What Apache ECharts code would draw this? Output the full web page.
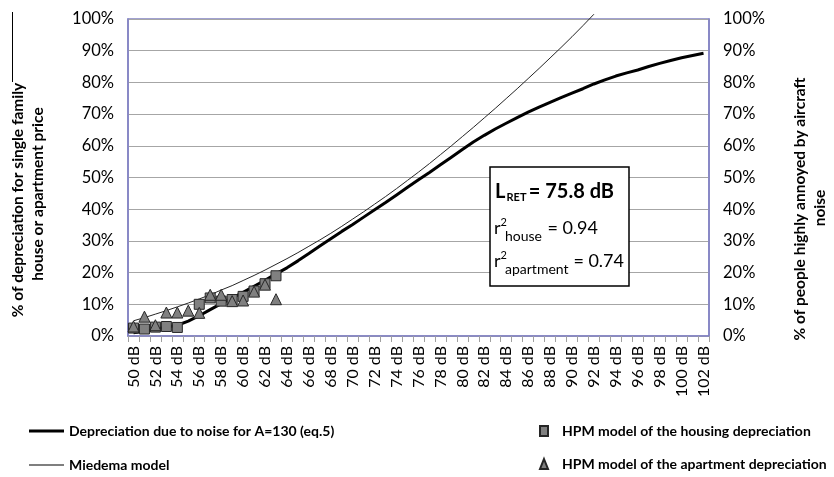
<!DOCTYPE html>
<html>
<head>
<meta charset="utf-8">
<script src="https://cdn.jsdelivr.net/npm/echarts@6/dist/echarts.min.js"></script>
<style>
  html, body { margin: 0; padding: 0; background: #fff; }
  #chart { width: 834px; height: 477px; }
</style>
</head>
<body>
<div id="chart"></div>
<script>
// Noise levels (dB) on the category axis
const categories = [50,51,52,53,54,55,56,57,58,59,60,61,62,63,64,65,66,67,68,69,70,71,72,73,74,75,76,77,78,79,80,81,82,83,84,85,86,87,88,89,90,91,92,93,94,95,96,97,98,99,100,101,102];

// Depreciation due to noise for A=130 (eq.5), % (50..102 dB)
const depreciation = [1.0,1.5,2.1,2.8,3.4,4.7,6.4,8.3,10.2,12.0,13.8,15.7,17.6,19.6,21.5,23.7,26.0,28.4,30.7,33.0,35.2,37.5,39.8,42.1,44.5,46.9,49.3,51.6,54.0,56.4,58.8,61.2,63.3,65.3,67.1,68.9,70.6,72.2,73.7,75.2,76.6,78.0,79.5,80.8,82.0,83.0,83.9,85.0,86.0,86.9,87.8,88.5,89.2];

// Miedema model, % highly annoyed (50..92 dB)
const miedema = [4.8,5.8,6.9,8.0,9.2,10.4,11.7,13.0,14.5,15.9,17.5,19.1,20.8,22.6,24.4,26.3,28.3,30.3,32.4,34.6,36.9,39.2,41.6,44.0,46.5,49.1,51.7,54.4,57.2,60.0,62.9,65.8,68.8,71.8,74.9,78.0,81.2,84.4,87.7,91.0,94.4,97.9,101.5];

// HPM model of the housing depreciation
const houseDb  = [50,51,52,53,54,56,57,58,59,60,61,62,63];
const houseVal = [2.5,2.2,2.8,3.0,2.7,10.0,12.0,11.0,11.5,12.5,14.2,16.5,19.0];

// HPM model of the apartment depreciation
const aptDb  = [50,51,52,53,54,55,56,57,58,59,60,61,62,63];
const aptVal = [3.0,6.1,3.4,7.4,7.4,8.0,7.3,13.0,13.0,11.0,11.2,14.0,16.2,11.6];

const seriesNames = [
  'Depreciation due to noise for A=130 (eq.5)',
  'Miedema model',
  'HPM model of the housing depreciation',
  'HPM model of the apartment depreciation'
];

const FONT = 'Lato';
const frameColor = '#8282c2';
const catLabels = categories.map(d => d + ' dB');
const lab = d => d + ' dB';

const chart = echarts.init(document.getElementById('chart'), null, { renderer: 'canvas' });

const legendText = { fontFamily: FONT, fontWeight: 'bold', fontSize: 14, color: '#000' };

const option = {
  animation: false,
  backgroundColor: '#fff',
  textStyle: { fontFamily: FONT },
  grid: {
    left: 128, right: 125, top: 19, bottom: 141,
    show: true, borderColor: frameColor, borderWidth: 1.5, backgroundColor: 'transparent'
  },
  xAxis: {
    type: 'category',
    data: catLabels,
    boundaryGap: true,
    axisLine: { lineStyle: { color: frameColor, width: 1.5 } },
    axisTick: { show: true, interval: 0, length: 6, lineStyle: { color: '#a0a0a0' } },
    axisLabel: { rotate: 90, interval: 1, fontSize: 16, fontFamily: FONT, color: '#000', margin: 10 },
    splitLine: { show: false }
  },
  yAxis: [
    {
      type: 'value', min: 0, max: 100, interval: 10, position: 'left',
      axisLine: { show: true, lineStyle: { color: frameColor, width: 1.5 } },
      axisTick: { show: false },
      axisLabel: { formatter: '{value}%', fontSize: 16.5, fontFamily: FONT, color: '#000', margin: 14 },
      splitLine: { show: true, lineStyle: { color: '#a6a6a6', width: 1.2 } }
    },
    {
      type: 'value', min: 0, max: 100, interval: 10, position: 'right',
      axisLine: { show: true, lineStyle: { color: frameColor, width: 1.5 } },
      axisTick: { show: false },
      axisLabel: { formatter: '{value}%', fontSize: 16.5, fontFamily: FONT, color: '#000', margin: 14 },
      splitLine: { show: false }
    }
  ],
  legend: [
    {
      data: [
        { name: seriesNames[0], icon: 'path://M0,0 L35,0 L35,3 L0,3 Z', itemStyle: { color: '#000', borderWidth: 0 } },
        { name: seriesNames[1], icon: 'path://M0,0 L35,0 L35,1 L0,1 Z', itemStyle: { color: '#000', borderWidth: 0 } }
      ],
      orient: 'vertical', left: 29, top: 424, height: 60, padding: 0,
      itemWidth: 35, itemHeight: 14, itemGap: 20,
      textStyle: legendText
    },
    {
      data: [seriesNames[2], seriesNames[3]],
      orient: 'vertical', left: 539, top: 424, height: 60, padding: 0,
      itemWidth: 8, itemHeight: 10, itemGap: 19,
      textStyle: Object.assign({}, legendText, { padding: [0, 0, 0, 9] })
    }
  ],
  series: [
    {
      name: seriesNames[0], type: 'line', yAxisIndex: 0,
      data: depreciation, symbol: 'none', showSymbol: false,
      lineStyle: { color: '#000', width: 3 }, itemStyle: { color: '#000' }, z: 2
    },
    {
      name: seriesNames[1], type: 'line', yAxisIndex: 1,
      data: miedema, symbol: 'none', showSymbol: false, clip: false,
      lineStyle: { color: '#262626', width: 1 }, itemStyle: { color: '#262626' }, z: 3
    },
    {
      name: seriesNames[2], type: 'scatter', yAxisIndex: 0,
      data: houseDb.map((d, i) => [lab(d), houseVal[i]]),
      symbol: 'rect', symbolSize: 10,
      itemStyle: { color: '#808080', borderColor: '#262626', borderWidth: 1, opacity: 1 }, z: 4
    },
    {
      name: seriesNames[3], type: 'scatter', yAxisIndex: 0,
      data: aptDb.map((d, i) => [lab(d), aptVal[i]]),
      symbol: 'triangle', symbolSize: 11,
      itemStyle: { color: '#808080', borderColor: '#262626', borderWidth: 1, opacity: 1 }, z: 5
    }
  ],
  graphic: [
    // Axis titles
    { type: 'text', x: 18, y: 200, rotation: Math.PI / 2, z: 50,
      style: { text: '% of depreciation for single family', fontFamily: FONT, fontWeight: 'bold', fontSize: 15.5, fill: '#000', align: 'center', verticalAlign: 'middle' } },
    { type: 'text', x: 38, y: 194, rotation: Math.PI / 2, z: 50,
      style: { text: 'house or apartment price', fontFamily: FONT, fontWeight: 'bold', fontSize: 15.5, fill: '#000', align: 'center', verticalAlign: 'middle' } },
    { type: 'line', z: 50, shape: { x1: 12.5, y1: 12, x2: 12.5, y2: 82 }, style: { stroke: '#000', lineWidth: 1 } },
    { type: 'text', x: 800, y: 209, rotation: Math.PI / 2, z: 50,
      style: { text: '% of people highly annoyed by aircraft', fontFamily: FONT, fontWeight: 'bold', fontSize: 15.5, fill: '#000', align: 'center', verticalAlign: 'middle' } },
    { type: 'text', x: 820, y: 208, rotation: Math.PI / 2, z: 50,
      style: { text: 'noise', fontFamily: FONT, fontWeight: 'bold', fontSize: 15.5, fill: '#000', align: 'center', verticalAlign: 'middle' } },
    // Annotation box
    { type: 'rect', z: 100, shape: { x: 490, y: 167, width: 139, height: 119 },
      style: { fill: '#fff', stroke: '#000', lineWidth: 1.5 } },
    { type: 'text', z: 101, x: 495, y: 192,
      style: { text: 'L', fontFamily: FONT, fontWeight: 'bold', fontSize: 20, fill: '#000', align: 'left', verticalAlign: 'middle' } },
    { type: 'text', z: 101, x: 506.5, y: 197,
      style: { text: 'RET', fontFamily: FONT, fontWeight: 'bold', fontSize: 11, fill: '#000', align: 'left', verticalAlign: 'middle' } },
    { type: 'text', z: 101, x: 614, y: 192,
      style: { text: '= 75.8 dB', fontFamily: FONT, fontWeight: 'bold', fontSize: 20, fill: '#000', align: 'right', verticalAlign: 'middle' } },
    { type: 'text', z: 101, x: 494, y: 228,
      style: { text: 'r', fontFamily: FONT, fontSize: 18, fill: '#000', align: 'left', verticalAlign: 'middle' } },
    { type: 'text', z: 101, x: 500.5, y: 222,
      style: { text: '2', fontFamily: FONT, fontSize: 11, fill: '#000', align: 'left', verticalAlign: 'middle' } },
    { type: 'text', z: 101, x: 505, y: 236,
      style: { text: 'house', fontFamily: FONT, fontSize: 14, fill: '#000', align: 'left', verticalAlign: 'middle' } },
    { type: 'text', z: 101, x: 598, y: 228,
      style: { text: '= 0.94', fontFamily: FONT, fontSize: 18, fill: '#000', align: 'right', verticalAlign: 'middle' } },
    { type: 'text', z: 101, x: 494, y: 261,
      style: { text: 'r', fontFamily: FONT, fontSize: 18, fill: '#000', align: 'left', verticalAlign: 'middle' } },
    { type: 'text', z: 101, x: 500.5, y: 255,
      style: { text: '2', fontFamily: FONT, fontSize: 11, fill: '#000', align: 'left', verticalAlign: 'middle' } },
    { type: 'text', z: 101, x: 505, y: 269,
      style: { text: 'apartment', fontFamily: FONT, fontSize: 14, fill: '#000', align: 'left', verticalAlign: 'middle' } },
    { type: 'text', z: 101, x: 624, y: 261,
      style: { text: '= 0.74', fontFamily: FONT, fontSize: 18, fill: '#000', align: 'right', verticalAlign: 'middle' } }
  ]
};

chart.setOption(option);
</script>
</body>
</html>
